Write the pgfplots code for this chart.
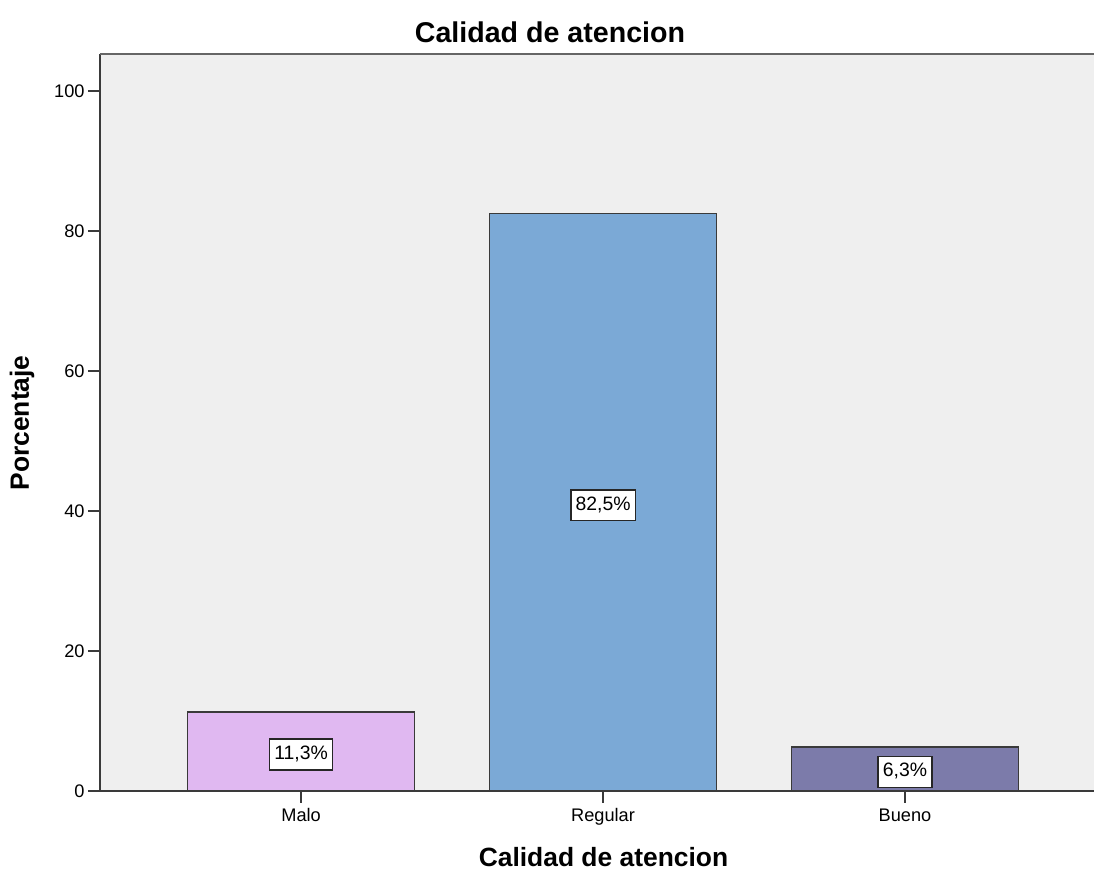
\documentclass[border=0pt]{standalone}
\usepackage{pgfplots}
\pgfplotsset{compat=1.18}
\usepackage{fontspec}
\setmainfont{Liberation Sans}
\definecolor{bgc}{HTML}{EFEFEF}
\definecolor{malo}{HTML}{E0B8F1}
\definecolor{regular}{HTML}{7BA9D6}
\definecolor{bueno}{HTML}{7C7BAA}
\definecolor{edge}{HTML}{3A3A3A}
\begin{document}
\begin{tikzpicture}
\path[use as bounding box] (-50pt,-40pt) rectangle (497pt,395.5pt);
\begin{axis}[
  at={(0pt,0pt)}, anchor=south west,
  scale only axis, width=497pt, height=368.5pt,
  xmin=-0.666, xmax=2.626, ymin=0, ymax=105.3,
  axis x line=bottom, axis y line=left,
  axis line style={-, draw=edge, line width=0.85pt},
  axis background/.style={fill=bgc},
  xtick={0,1,2}, xticklabels={Malo,Regular,Bueno},
  ytick={0,20,40,60,80,100},
  tick align=outside, major tick length=6pt,
  tick style={draw=edge, line width=0.85pt},
  /pgf/number format/assume math mode=true,
  ticklabel style={font=\fontsize{9.1}{10}\selectfont},
  yticklabel style={inner sep=1.5pt},
  xticklabel style={inner sep=1pt, text height=6.5pt, text depth=0pt, yshift=-1.5pt},
  clip=false,
]
\addplot[ybar, bar width=113.5pt, bar shift=0pt, fill=malo, draw=edge, line width=0.85pt] coordinates {(0,11.3)};
\addplot[ybar, bar width=113.5pt, bar shift=0pt, fill=regular, draw=edge, line width=0.85pt] coordinates {(1,82.5)};
\addplot[ybar, bar width=113.5pt, bar shift=0pt, fill=bueno, draw=edge, line width=0.85pt] coordinates {(2,6.3)};
\addplot[draw=none, mark=none, point meta=explicit symbolic,
  nodes near coords,
  every node near coord/.append style={anchor=center, fill=white, draw=black!85, line width=0.8pt,
    font=\fontsize{9.7}{11}\selectfont, inner xsep=2.4pt, inner ysep=3.2pt, text height=7pt, text depth=2pt, yshift=-1.5pt}]
  coordinates {(0,5.65)[11,3\%] (1,41.25)[82,5\%] (2,3.15)[6,3\%]};
\draw[draw=gray!80!black, line width=0.9pt] (rel axis cs:0,1) -- (rel axis cs:1,1);
\end{axis}
\node[font=\fontsize{14.3}{16}\selectfont\bfseries] at (225pt,379.5pt) {Calidad de atencion};
\node[font=\fontsize{13.2}{15}\selectfont\bfseries] at (251.75pt,-33pt) {Calidad de atencion};
\node[font=\fontsize{13.2}{15}\selectfont\bfseries, rotate=90] at (-39pt,184pt) {Porcentaje};
\end{tikzpicture}
\end{document}
